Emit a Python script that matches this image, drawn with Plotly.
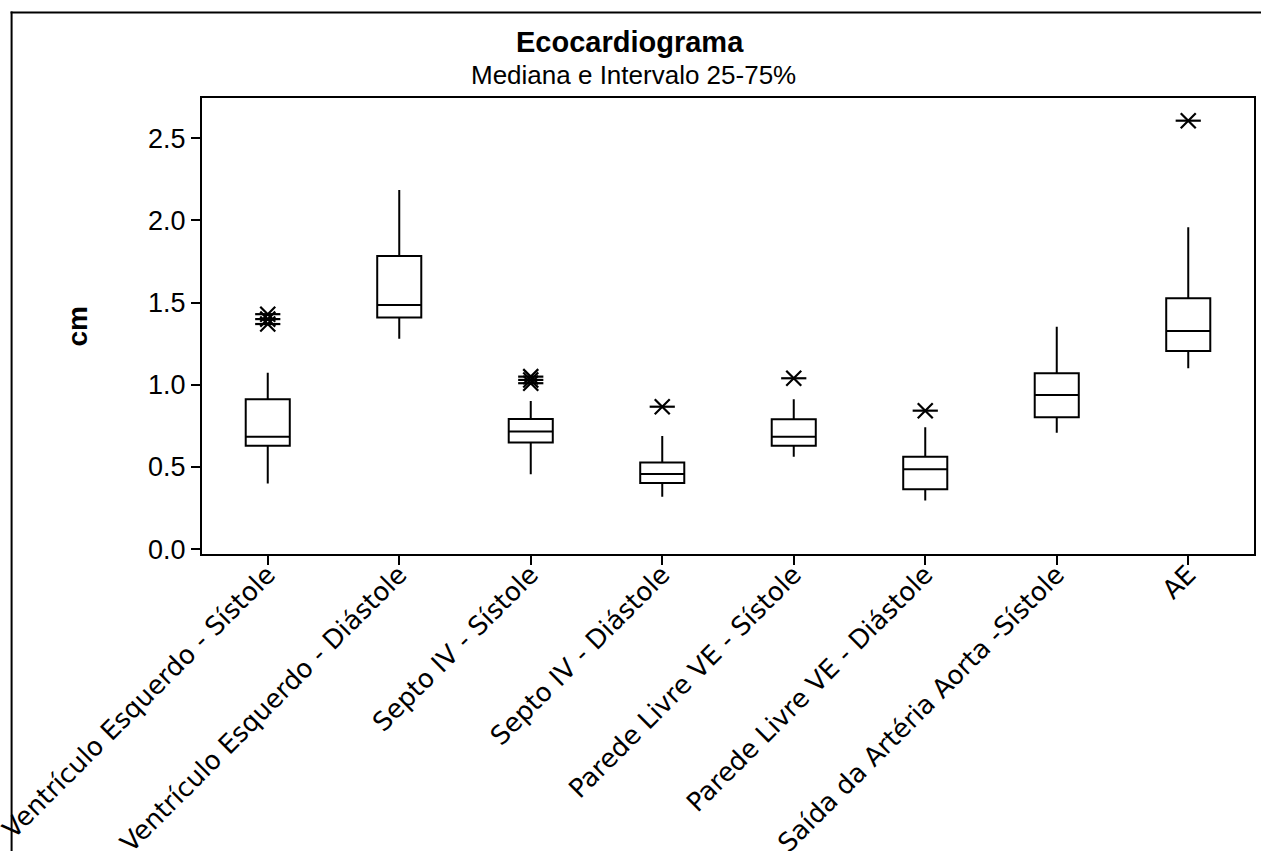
import plotly.graph_objects as go

categories = [
    "Ventrículo Esquerdo - Sístole",
    "Ventrículo Esquerdo - Diástole",
    "Septo IV - Sístole",
    "Septo IV - Diástole",
    "Parede Livre VE - Sístole",
    "Parede Livre VE - Diástole",
    "Saída da Artéria Aorta -Sístole",
    "AE",
]
lower_whisker = [0.40, 1.28, 0.456, 0.32, 0.563, 0.296, 0.709, 1.101]
q1_values = [0.630, 1.409, 0.649, 0.403, 0.630, 0.365, 0.803, 1.206]
median_values = [0.685, 1.486, 0.716, 0.458, 0.685, 0.487, 0.939, 1.328]
q3_values = [0.912, 1.784, 0.793, 0.527, 0.791, 0.563, 1.071, 1.527]
upper_whisker = [1.074, 2.186, 0.902, 0.689, 0.912, 0.742, 1.354, 1.959]

outlier_categories = [categories[0], categories[0], categories[0],
                      categories[2], categories[2], categories[2],
                      categories[3], categories[4], categories[5], categories[7]]
outlier_values = [1.43, 1.40, 1.37, 1.05, 1.03, 1.01, 0.867, 1.04, 0.843, 2.607]

y_ticks = [0.0, 0.5, 1.0, 1.5, 2.0, 2.5]

fig = go.Figure()
fig.add_trace(go.Box(
    x=categories,
    q1=q1_values, median=median_values, q3=q3_values,
    lowerfence=lower_whisker, upperfence=upper_whisker,
    boxpoints=False,
    width=0.335,
    fillcolor="white",
    line=dict(color="black", width=2),
    whiskerwidth=0,
    showlegend=False,
    hoverinfo="skip",
))
for sym in ["x-thin-open", "line-ew-open"]:
    fig.add_trace(go.Scatter(
        x=outlier_categories, y=outlier_values, mode="markers",
        marker=dict(symbol=sym, size=15 if sym == "x-thin-open" else 18,
                    color="black", line=dict(color="black", width=2.2)),
        showlegend=False, hoverinfo="skip",
    ))

W, H = 1261, 851
L, R, T, B = 201.5, 7, 98, 297
pw, ph = W - L - R, H - T - B

def px(x):
    return (x - L) / pw

def py(y):
    return (H - B - y) / ph

fig.update_layout(
    width=W, height=H,
    margin=dict(l=L, r=R, t=T, b=B, autoexpand=False),
    paper_bgcolor="white", plot_bgcolor="white",
    xaxis=dict(
        type="category", categoryorder="array", categoryarray=categories,
        range=[-0.5, 7.5], showgrid=False, zeroline=False,
        showline=True, linecolor="black", linewidth=2, mirror=True,
        ticks="outside", ticklen=9, tickwidth=2, tickcolor="black",
        tickangle=-45, automargin=False, ticklabelstandoff=-16,
        tickfont=dict(family="DejaVu Sans", size=26, color="black"),
    ),
    yaxis=dict(
        range=[-0.029, 2.745], tickvals=y_ticks, tickformat=".1f",
        showgrid=False, zeroline=False,
        showline=True, linecolor="black", linewidth=2, mirror=True,
        ticks="outside", ticklen=9, tickwidth=2, tickcolor="black",
        automargin=False,
        tickfont=dict(family="Arial, Liberation Sans", size=27, color="black"),
    ),
    shapes=[
        dict(type="line", xref="paper", yref="paper",
             x0=px(10), x1=px(1300), y0=py(12.5), y1=py(12.5),
             line=dict(color="black", width=2), layer="below"),
        dict(type="line", xref="paper", yref="paper",
             x0=px(11), x1=px(11), y0=py(11.5), y1=py(900),
             line=dict(color="black", width=2), layer="below"),
    ],
    annotations=[
        dict(text="<b>Ecocardiograma</b>", xref="paper", yref="paper",
             x=px(630), y=py(42), xanchor="center", yanchor="middle",
             showarrow=False, font=dict(family="Arial, Liberation Sans", size=29, color="black")),
        dict(text="Mediana e Intervalo 25-75%", xref="paper", yref="paper",
             x=px(633), y=py(75), xanchor="center", yanchor="middle",
             showarrow=False, font=dict(family="Arial, Liberation Sans", size=26, color="black")),
        dict(text="<b>cm</b>", xref="paper", yref="paper",
             x=px(76), y=py(327), xanchor="center", yanchor="middle", textangle=-90,
             showarrow=False, font=dict(family="Arial, Liberation Sans", size=28, color="black")),
    ],
)

fig.write_html("out.html")
